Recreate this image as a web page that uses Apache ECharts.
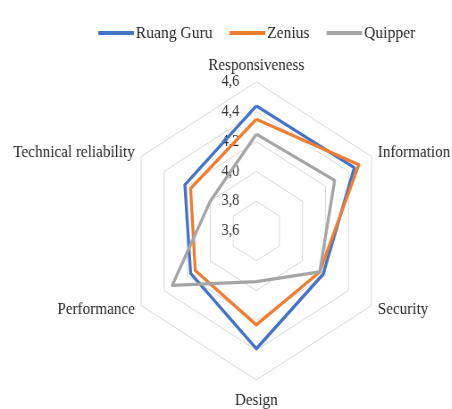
<!DOCTYPE html>
<html><head><meta charset="utf-8">
<script src="https://cdn.jsdelivr.net/npm/echarts@6/dist/echarts.min.js"></script>
<style>
html,body{margin:0;padding:0;background:#fff;overflow:hidden}
#wrap{width:452px;height:409px;overflow:hidden}
#chart{width:506px;height:409px;transform:scaleX(0.893);transform-origin:0 0}
</style></head><body><div id="wrap"><div id="chart"></div></div>
<script>
// Axes in drawing order (ECharts places indicators counter-clockwise from the top)
const categories = ['Responsiveness', 'Technical reliability', 'Performance', 'Design', 'Security', 'Information'];
const seriesNames = ['Ruang Guru', 'Zenius', 'Quipper'];
const ruangGuru = [4.44, 4.22, 4.17, 4.39, 4.18, 4.45];
const zenius    = [4.35, 4.17, 4.13, 4.23, 4.15, 4.49];
const quipper   = [4.25, 4.00, 4.33, 3.94, 4.15, 4.28];
const axisMin = 3.6, axisMax = 4.6, axisSplits = 5;

const colors = ['#4472C4', '#ED7D31', '#A5A5A5'];
const font = 'Liberation Serif, Times New Roman, serif';

const chart = echarts.init(document.getElementById('chart'), null, {renderer: 'canvas'});
chart.setOption({
  animation: false,
  color: colors,
  legend: {
    top: 19, left: 105,
    icon: 'rect', itemWidth: 40, itemHeight: 4, itemGap: 19,
    textStyle: {fontFamily: font, fontSize: 17.5, color: '#262626', padding: [0, 0, 0, -3]},
    data: seriesNames
  },
  radar: {
    center: [287, 231],
    radius: 149,
    shape: 'polygon',
    splitNumber: axisSplits,
    startAngle: 90,
    axisName: {fontFamily: font, fontSize: 17, color: '#262626'},
    nameGap: 8,
    splitArea: {show: false},
    splitLine: {lineStyle: {color: '#D9D9D9', width: 1}},
    axisLine: {show: false},
    axisTick: {show: false},
    axisLabel: {show: false},
    indicator: categories.map((c, i) => ({
      name: c, min: axisMin, max: axisMax,
      nameGap: i === 3 ? 12 : 8,
      axisLabel: i === 0 ? {
        show: true, fontFamily: font, fontSize: 16, color: '#333333', margin: 19,
        formatter: v => Number(v).toFixed(1).replace('.', ',')
      } : {show: false}
    }))
  },
  series: [{
    type: 'radar',
    symbol: 'none',
    lineStyle: {width: 3.3},
    data: [
      {name: seriesNames[0], value: ruangGuru, lineStyle: {color: colors[0], width: 3.3}, itemStyle: {color: colors[0]}},
      {name: seriesNames[1], value: zenius, lineStyle: {color: colors[1], width: 3.3}, itemStyle: {color: colors[1]}},
      {name: seriesNames[2], value: quipper, lineStyle: {color: colors[2], width: 3.3}, itemStyle: {color: colors[2]}}
    ]
  }]
});
</script></body></html>
